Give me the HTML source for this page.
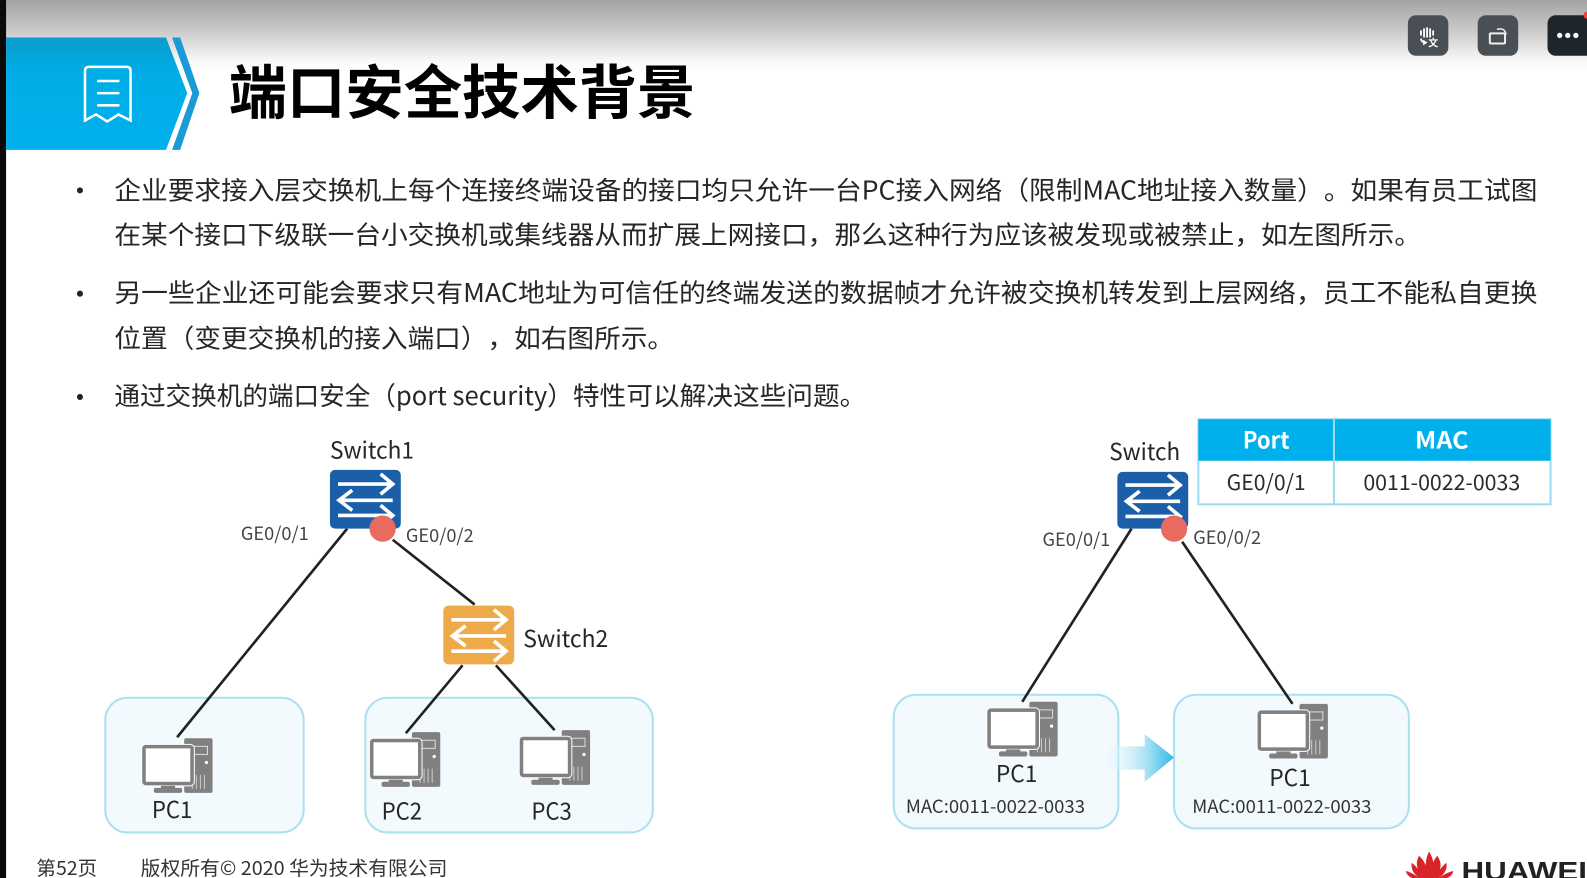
<!DOCTYPE html>
<html><head><meta charset="utf-8"><style>
html,body{margin:0;padding:0;background:#fff;width:1587px;height:878px;overflow:hidden}
svg{display:block;filter:blur(.35px)}
text{font-family:"Noto Sans CJK SC","Liberation Sans",sans-serif;fill:#2b2b2b;text-spacing-trim:space-all;font-feature-settings:"chws" 0,"palt" 0}
.b{font-size:25.5px;fill:#262626}
.l{font-size:18px;fill:#444}
.n{font-size:23px;fill:#262626}
</style></head><body>
<svg width="1587" height="878" viewBox="0 0 1568 867" preserveAspectRatio="none" xmlns="http://www.w3.org/2000/svg">
<defs>
<linearGradient id="top" x1="0" y1="0" x2="0" y2="1"><stop offset="0" stop-color="#a4a4a4"/><stop offset=".45" stop-color="#cdcdcd"/><stop offset=".85" stop-color="#fafafa"/><stop offset="1" stop-color="#fff"/></linearGradient>
<linearGradient id="hd" x1="0" y1="0" x2="0" y2="1"><stop offset="0" stop-color="#0a9ccc"/><stop offset=".3" stop-color="#00ade6"/><stop offset="1" stop-color="#00b0ec"/></linearGradient>
<linearGradient id="ar" x1="0" y1="0" x2="1" y2="0"><stop offset="0" stop-color="#e4f6fc" stop-opacity=".3"/><stop offset=".6" stop-color="#a5e0f5"/><stop offset="1" stop-color="#2fb8e8"/></linearGradient>
<g id="pc">
<rect x="42" y="0" width="28" height="54" rx="2" fill="#808080"/>
<rect x="47" y="8" width="18" height="8" fill="none" stroke="#ddd" stroke-width="1"/>
<circle cx="64" cy="24" r="1.6" fill="#fff"/>
<path d="M50 36v14M54 36v14M58 36v14M62 36v14" stroke="#ccc" stroke-width="1"/>
<rect x="0" y="6" width="52" height="41" rx="4" fill="#808080" stroke="#fff" stroke-width="1"/>
<rect x="4" y="10" width="44" height="33" fill="#fff"/>
<rect x="19" y="47" width="14" height="3" fill="#808080"/>
<rect x="12" y="49" width="28" height="5" rx="2" fill="#808080"/>
</g>
<g id="sw" fill="none" stroke="#fff" stroke-width="3.6">
<path d="M8 14H61M50 4L62 14L50 24"/>
<path d="M62 30H11M22 20L9 30L22 40"/>
<path d="M8 45H61M50 35L62 45L50 55"/>
</g>
</defs>
<rect width="1568" height="867" fill="#fff"/>
<rect width="1568" height="72" fill="url(#top)"/>
<rect width="6" height="867" fill="#0a0a0a"/>

<!-- header -->
<path d="M6 37H164L185 92L164 148H6Z" fill="url(#hd)"/>
<path d="M170 37H178L197 92L178 148H170L190 92Z" fill="#1a9ad6"/>
<g fill="none" stroke="#fff" stroke-width="2.5">
<path d="M84 70Q84 66 88 66H125Q129 66 129 70V119L117 113L106 120L95 113L84 119Z"/>
<path d="M96 80H118M96 92H118M96 104H118"/>
</g>
<text x="226" y="112" font-size="58" textLength="461" lengthAdjust="spacingAndGlyphs" style="font-weight:700;fill:#000">端口安全技术背景</text>

<!-- top-right buttons -->
<rect x="1391" y="15" width="40" height="40" rx="8" fill="#4a4f55"/>
<path d="M1404 30v5M1407 28v9M1410 27v10M1413 28v9M1416 30v5" stroke="#fff" stroke-width="1.8"/>
<path d="M1404 38q0 4 5 4M1406 40l3 2l-3 2" fill="none" stroke="#fff" stroke-width="1.6"/>
<text x="1416" y="46" font-size="10" text-anchor="middle" style="fill:#fff;font-weight:700">文</text>
<rect x="1460" y="15" width="40" height="40" rx="8" fill="#4a4f55"/>
<rect x="1472" y="33" width="15" height="10" rx="1" fill="none" stroke="#eee" stroke-width="2"/>
<path d="M1479 29Q1487 27 1488 34" fill="none" stroke="#eee" stroke-width="1.5"/>
<rect x="1529" y="15" width="50" height="40" rx="8" fill="#1f262b"/>
<circle cx="1541" cy="35" r="2.6" fill="#fff"/><circle cx="1549" cy="35" r="2.6" fill="#fff"/><circle cx="1557" cy="35" r="2.6" fill="#fff"/>
<circle cx="1568" cy="15" r="3.5" fill="#f04040"/>

<!-- bullets -->
<circle cx="79" cy="188" r="3" fill="#222"/>
<circle cx="79" cy="290" r="3" fill="#222"/>
<circle cx="79" cy="392" r="3" fill="#222"/>
<text class="b" x="113" y="197" textLength="1406" lengthAdjust="spacingAndGlyphs">企业要求接入层交换机上每个连接终端设备的接口均只允许一台PC接入网络（限制MAC地址接入数量）。如果有员工试图</text>
<text class="b" x="113" y="241" textLength="1291" lengthAdjust="spacingAndGlyphs">在某个接口下级联一台小交换机或集线器从而扩展上网接口，那么这种行为应该被发现或被禁止，如左图所示。</text>
<text class="b" x="113" y="298" textLength="1406" lengthAdjust="spacingAndGlyphs">另一些企业还可能会要求只有MAC地址为可信任的终端发送的数据帧才允许被交换机转发到上层网络，员工不能私自更换</text>
<text class="b" x="113" y="343" textLength="553" lengthAdjust="spacingAndGlyphs">位置（变更交换机的接入端口），如右图所示。</text>
<text class="b" x="113" y="400" textLength="453" lengthAdjust="spacingAndGlyphs">通过交换机的端口安全（port security）</text>
<text class="b" x="566" y="400" textLength="290" lengthAdjust="spacingAndGlyphs">特性可以解决这些问题。</text>

<!-- left diagram -->
<rect x="104" y="689" width="196" height="133" rx="22" fill="#f2fafd" stroke="#abdff2" stroke-width="2"/>
<rect x="361" y="689" width="284" height="133" rx="22" fill="#f2fafd" stroke="#abdff2" stroke-width="2"/>
<g stroke="#222" stroke-width="2.6">
<path d="M343 522L175 728M388 533L469 597M457 657L401 724M490 657L548 721"/>
</g>
<rect x="326" y="464" width="70" height="58" rx="5" fill="#1a5fa8"/>
<use href="#sw" x="326" y="464"/>
<circle cx="378" cy="522" r="13" fill="#e96b5f"/>
<rect x="438" y="598" width="70" height="58" rx="5" fill="#eeaa48"/>
<use href="#sw" x="438" y="598"/>
<text class="n" x="326" y="453" textLength="83" lengthAdjust="spacingAndGlyphs">Switch1</text>
<text class="n" x="517" y="639" textLength="84" lengthAdjust="spacingAndGlyphs">Switch2</text>
<text class="l" x="238" y="533" textLength="67" lengthAdjust="spacingAndGlyphs">GE0/0/1</text>
<text class="l" x="401" y="535" textLength="67" lengthAdjust="spacingAndGlyphs">GE0/0/2</text>
<use href="#pc" x="140" y="729"/>
<use href="#pc" x="365" y="723"/>
<use href="#pc" x="513" y="721"/>
<text class="n" x="150" y="808" textLength="40" lengthAdjust="spacingAndGlyphs">PC1</text>
<text class="n" x="377" y="809" textLength="40" lengthAdjust="spacingAndGlyphs">PC2</text>
<text class="n" x="525" y="809" textLength="40" lengthAdjust="spacingAndGlyphs">PC3</text>

<!-- right diagram -->
<rect x="883" y="686" width="222" height="132" rx="22" fill="#f2fafd" stroke="#abdff2" stroke-width="2"/>
<rect x="1160" y="686" width="232" height="132" rx="22" fill="#f2fafd" stroke="#abdff2" stroke-width="2"/>
<path d="M1095 737H1131V725L1160 748L1131 772V760H1095Z" fill="url(#ar)"/>
<g stroke="#222" stroke-width="2.6"><path d="M1118 522L1010 693M1168 535L1277 695"/></g>
<rect x="1104" y="466" width="70" height="56" rx="5" fill="#1a5fa8"/>
<use href="#sw" x="1104" y="465"/>
<circle cx="1160" cy="522" r="13" fill="#e96b5f"/>
<text class="n" x="1096" y="454" textLength="70" lengthAdjust="spacingAndGlyphs">Switch</text>
<text class="l" x="1030" y="539" textLength="67" lengthAdjust="spacingAndGlyphs">GE0/0/1</text>
<text class="l" x="1179" y="537" textLength="67" lengthAdjust="spacingAndGlyphs">GE0/0/2</text>
<use href="#pc" x="975" y="693"/>
<use href="#pc" x="1242" y="695"/>
<text class="n" x="984" y="772" textLength="41" lengthAdjust="spacingAndGlyphs">PC1</text>
<text class="n" x="1254" y="776" textLength="41" lengthAdjust="spacingAndGlyphs">PC1</text>
<text x="895" y="803" font-size="18" textLength="177" lengthAdjust="spacingAndGlyphs" style="fill:#333">MAC:0011-0022-0033</text>
<text x="1178" y="803" font-size="18" textLength="177" lengthAdjust="spacingAndGlyphs" style="fill:#333">MAC:0011-0022-0033</text>

<!-- table -->
<rect x="1184" y="414" width="348" height="84" fill="#fff" stroke="#9adcf3" stroke-width="2"/>
<rect x="1184" y="414" width="348" height="41" fill="#00b0ec"/>
<path d="M1318 414V498" stroke="#9adcf3" stroke-width="2"/>
<text x="1228" y="443" font-size="23" font-weight="700" style="fill:#fff" textLength="46" lengthAdjust="spacingAndGlyphs">Port</text>
<text x="1398" y="443" font-size="23" font-weight="700" style="fill:#fff" textLength="53" lengthAdjust="spacingAndGlyphs">MAC</text>
<text x="1212" y="484" font-size="21" textLength="78" lengthAdjust="spacingAndGlyphs">GE0/0/1</text>
<text x="1347" y="484" font-size="21" textLength="155" lengthAdjust="spacingAndGlyphs">0011-0022-0033</text>

<!-- footer -->
<text x="36" y="864" font-size="19" textLength="60" lengthAdjust="spacingAndGlyphs" style="fill:#333">第52页</text>
<text x="139" y="864" font-size="19" textLength="303" lengthAdjust="spacingAndGlyphs" style="fill:#333">版权所有© 2020 华为技术有限公司</text>
<g fill="#d8232a">
<path d="M1412 841Q1406 852 1411 867H1417Q1418 850 1412 841Z"/>
<path d="M1402 845Q1396 856 1407 867H1412Q1410 852 1402 845Z"/>
<path d="M1395 852Q1393 860 1402 867H1407Q1402 858 1395 852Z"/>
<path d="M1389 860Q1390 865 1395 867H1402Q1396 862 1389 860Z"/>
<path d="M1420 845Q1428 856 1417 867H1412Q1414 852 1420 845Z" />
<path d="M1429 852Q1431 860 1422 867H1417Q1422 858 1429 852Z"/>
<path d="M1436 860Q1435 865 1430 867H1422Q1428 862 1436 860Z"/>
</g>
<text x="1444" y="869" font-size="26" textLength="124" lengthAdjust="spacingAndGlyphs" style="fill:#222;font-family:'Liberation Sans',sans-serif;font-weight:700">HUAWEI</text>
</svg>
</body></html>
